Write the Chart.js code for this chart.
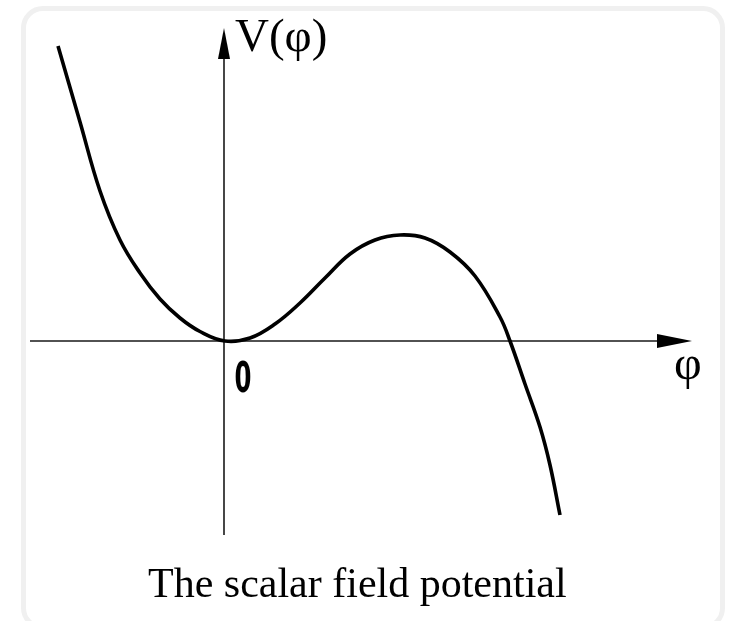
<!DOCTYPE html>
<html lang="en">
<head>
<meta charset="UTF-8">
<title>Scalar field potential</title>
<script src="https://cdn.jsdelivr.net/npm/chart.js"></script>
<style>
    html, body {
        margin: 0;
        padding: 0;
        background: #ffffff;
        width: 735px;
        height: 621px;
        overflow: hidden;
    }
    .card {
        position: absolute;
        left: 21px;
        top: 6px;
        width: 694px;
        height: 614px;
        border: 5px solid #f0f0f0;
        border-radius: 22px;
        background: #ffffff;
    }
    #chart {
        position: absolute;
        left: 0;
        top: 0;
    }
    .lbl {
        position: absolute;
        font-family: "Liberation Serif", "Times New Roman", serif;
        color: #000;
        white-space: nowrap;
    }
    .zero {
        position: absolute;
        left: 223px;
        top: 357px;
        width: 40px;
        text-align: center;
        font-family: "DejaVu Sans", sans-serif;
        font-weight: bold;
        font-size: 42px;
        line-height: 41px;
        transform: scaleX(0.58);
        color: #000;
    }
</style>
</head>
<body>
<div class="card"></div>
<canvas id="chart" width="735" height="621"></canvas>
<div class="lbl" style="left:235px; top:12px; font-size:47px; line-height:46px;">V(φ)</div>
<div class="lbl" style="left:674px; top:340px; font-size:48px; line-height:46px;">φ</div>
<div class="zero">0</div>
<div class="lbl" style="left:148px; top:562px; font-size:42px; line-height:42px;">The scalar field potential</div>
<script>
// field values (phi) and potential V(phi)
const phi = [-1.66, -1.44, -1.24, -1.04, -0.84, -0.64, -0.44, -0.24, 0.01,
             0.26, 0.51, 0.76, 1.01, 1.26, 1.51, 1.76, 2.01, 2.26, 2.51,
             2.76, 2.86, 3.01, 3.16, 3.26, 3.36];
const potential = [2.95, 2.19, 1.50, 1.01, 0.68, 0.42, 0.23, 0.095, 0.0,
                   0.03, 0.17, 0.38, 0.63, 0.87, 1.01, 1.06, 1.03, 0.89, 0.65,
                   0.24, 0.0, -0.43, -0.86, -1.24, -1.74];

const xRange = [-1.94, 4.68];
const yRange = [-1.94, 3.13];

// axes with arrow heads, crossing at (0, 0)
const axesPlugin = {
    id: 'axes',
    beforeDatasetsDraw(chart) {
        const ctx = chart.ctx;
        const xs = chart.scales.x, ys = chart.scales.y;
        const ox = xs.getPixelForValue(0);
        const oy = ys.getPixelForValue(0);
        const left = chart.chartArea.left, right = chart.chartArea.right;
        const top = chart.chartArea.top, bottom = chart.chartArea.bottom;
        ctx.save();
        ctx.strokeStyle = '#1a1a1a';
        ctx.fillStyle = '#000';
        ctx.lineWidth = 1.6;
        ctx.beginPath();
        ctx.moveTo(left, oy);
        ctx.lineTo(right - 20, oy);
        ctx.moveTo(ox, bottom);
        ctx.lineTo(ox, top + 20);
        ctx.stroke();
        // arrow on phi axis
        ctx.beginPath();
        ctx.moveTo(right, oy);
        ctx.lineTo(right - 35, oy - 7);
        ctx.lineTo(right - 35, oy + 7);
        ctx.closePath();
        ctx.fill();
        // arrow on V axis
        ctx.beginPath();
        ctx.moveTo(ox, top);
        ctx.lineTo(ox - 6, top + 31);
        ctx.lineTo(ox + 6, top + 31);
        ctx.closePath();
        ctx.fill();
        ctx.restore();
    }
};

new Chart(document.getElementById('chart'), {
    type: 'scatter',
    data: {
        datasets: [{
            data: phi.map((p, i) => ({ x: p, y: potential[i] })),
            showLine: true,
            borderColor: '#000',
            borderWidth: 3.6,
            borderCapStyle: 'butt',
            pointRadius: 0,
            tension: 0.4
        }]
    },
    options: {
        responsive: false,
        animation: false,
        layout: { padding: { left: 30, right: 43, top: 28, bottom: 86 } },
        plugins: { legend: { display: false }, tooltip: { enabled: false } },
        scales: {
            x: { type: 'linear', min: xRange[0], max: xRange[1], display: false },
            y: { type: 'linear', min: yRange[0], max: yRange[1], display: false }
        }
    },
    plugins: [axesPlugin]
});
</script>
</body>
</html>
